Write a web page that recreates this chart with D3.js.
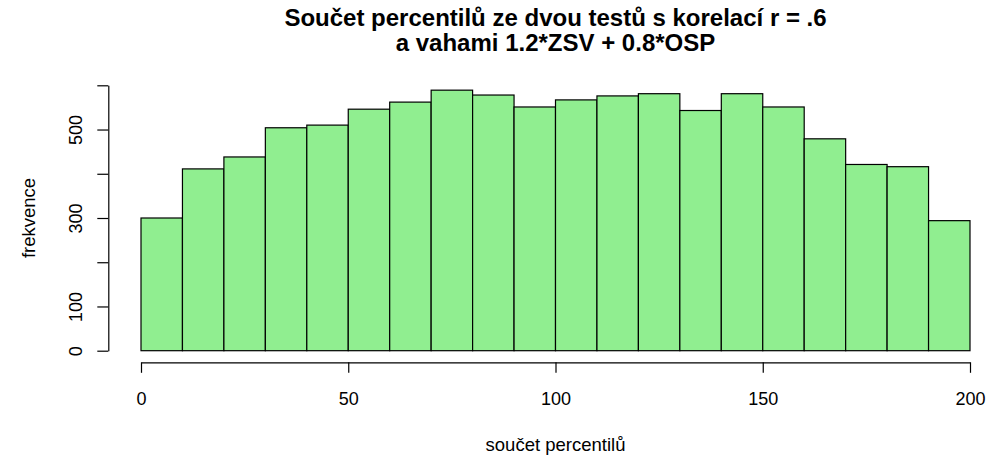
<!DOCTYPE html>
<html>
<head>
<meta charset="utf-8">
<script src="https://cdn.jsdelivr.net/npm/d3@7"></script>
<style>
	body { margin: 0; background: #fff; }
	svg { display: block; }
	svg text { font-family: "Liberation Sans", Arial, sans-serif; }
	.axis path, .axis line { stroke: #000; }
</style>
</head>
<body>
<div id="chart"></div>
<script>
// histogram bins and counts
var binStarts = [0, 10, 20, 30, 40, 50, 60, 70, 80, 90, 100, 110, 120, 130, 140, 150, 160, 170, 180, 190];
var binWidth = 10;
var counts = [300, 411, 438, 504, 510, 546, 562, 589, 578, 551, 567, 576, 581, 543, 581, 551, 479, 421, 416, 294];
var xTicks = [0, 50, 100, 150, 200];
var yTicks = [0, 100, 200, 300, 400, 500, 600];
var yTickLabels = [0, 100, 300, 500];
var titleLines = ["Součet percentilů ze dvou testů s korelací r = .6", "a vahami 1.2*ZSV + 0.8*OSP"];
var xTitle = "součet percentilů";
var yTitle = "frekvence";

var width = 1002, height = 455;
var plot = { left: 141, right: 970, top: 85.3, bottom: 350.7 };

var svg = d3.select("#chart").append("svg")
	.attr("width", width)
	.attr("height", height);

var x = d3.scaleLinear().domain([0, 200]).range([plot.left, plot.right]);
var y = d3.scaleLinear().domain([0, 600]).range([plot.bottom, plot.top]);

// bars
svg.append("g").selectAll("rect")
	.data(binStarts)
	.enter().append("rect")
	.attr("x", function(d) { return x(d); })
	.attr("y", function(d, i) { return y(counts[i]); })
	.attr("width", function(d) { return x(d + binWidth) - x(d); })
	.attr("height", function(d, i) { return y(0) - y(counts[i]); })
	.attr("fill", "#90ee90")
	.attr("stroke", "#000")
	.attr("stroke-width", 1.2);

// x axis
var xAxis = svg.append("g")
	.attr("class", "axis")
	.attr("transform", "translate(0,362.3)")
	.call(d3.axisBottom(x).tickValues(xTicks).tickSize(10.5).tickSizeOuter(0));
xAxis.attr("font-family", null).attr("font-size", null);
xAxis.selectAll("text")
	.attr("y", 42.5)
	.attr("dy", null)
	.attr("fill", "#000")
	.style("font-size", "18px");
xAxis.select(".domain").attr("stroke-width", 1.2);
xAxis.selectAll(".tick line").attr("stroke-width", 1.2);

// y axis
var yAxis = svg.append("g")
	.attr("class", "axis")
	.attr("transform", "translate(108.3,0)")
	.call(d3.axisLeft(y).tickValues(yTicks).tickSize(11).tickSizeOuter(0)
		.tickFormat(function(d) { return yTickLabels.indexOf(d) >= 0 ? d : ""; }));
yAxis.attr("font-family", null).attr("font-size", null);
yAxis.selectAll("text")
	.attr("x", null)
	.attr("dy", null)
	.attr("text-anchor", "middle")
	.attr("transform", "translate(-26.5,0) rotate(-90)")
	.attr("fill", "#000")
	.style("font-size", "18px");
yAxis.select(".domain").attr("stroke-width", 1.2);
yAxis.selectAll(".tick line").attr("stroke-width", 1.2);

// titles
svg.append("g").selectAll("text")
	.data(titleLines)
	.enter().append("text")
	.attr("x", (plot.left + plot.right) / 2)
	.attr("y", function(d, i) { return 26 + i * 25; })
	.attr("text-anchor", "middle")
	.style("font-size", "24px")
	.style("font-weight", "bold")
	.text(function(d) { return d; });

svg.append("text")
	.attr("x", (plot.left + plot.right) / 2)
	.attr("y", 451)
	.attr("text-anchor", "middle")
	.style("font-size", "18.5px")
	.text(xTitle);

svg.append("text")
	.attr("transform", "translate(35," + ((plot.top + plot.bottom) / 2) + ") rotate(-90)")
	.attr("text-anchor", "middle")
	.style("font-size", "18.5px")
	.text(yTitle);
</script>
</body>
</html>
